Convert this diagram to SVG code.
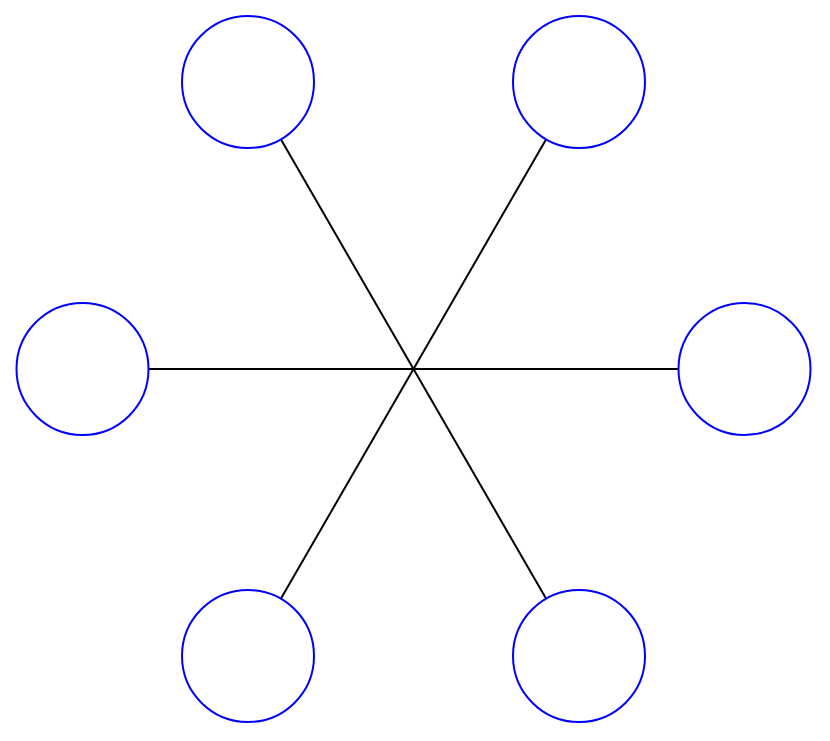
<svg xmlns="http://www.w3.org/2000/svg" width="830" height="741" viewBox="0 0 830 741">
<style>
.node{fill:none;stroke:#0000ff;stroke-width:2}
.edge{stroke:#000;stroke-width:2;fill:none}
</style>
<rect width="830" height="741" fill="#fff"/>
<g id="connectors">
<line class="edge" x1="413.5" y1="369" x2="678.5" y2="369"/>
<line class="edge" x1="413.5" y1="369" x2="148.5" y2="369"/>
<line class="edge" x1="413.5" y1="369" x2="281" y2="139.5"/>
<line class="edge" x1="413.5" y1="369" x2="546" y2="139.5"/>
<line class="edge" x1="413.5" y1="369" x2="281" y2="598.5"/>
<line class="edge" x1="413.5" y1="369" x2="546" y2="598.5"/>
</g>
<g id="n1"><circle class="node" cx="248" cy="82" r="66"/></g>
<g id="n2"><circle class="node" cx="579" cy="82" r="66"/></g>
<g id="n3"><circle class="node" cx="82.5" cy="369" r="66"/></g>
<g id="n4"><circle class="node" cx="744.5" cy="369" r="66"/></g>
<g id="n5"><circle class="node" cx="248" cy="656" r="66"/></g>
<g id="n6"><circle class="node" cx="579" cy="656" r="66"/></g>
</svg>
